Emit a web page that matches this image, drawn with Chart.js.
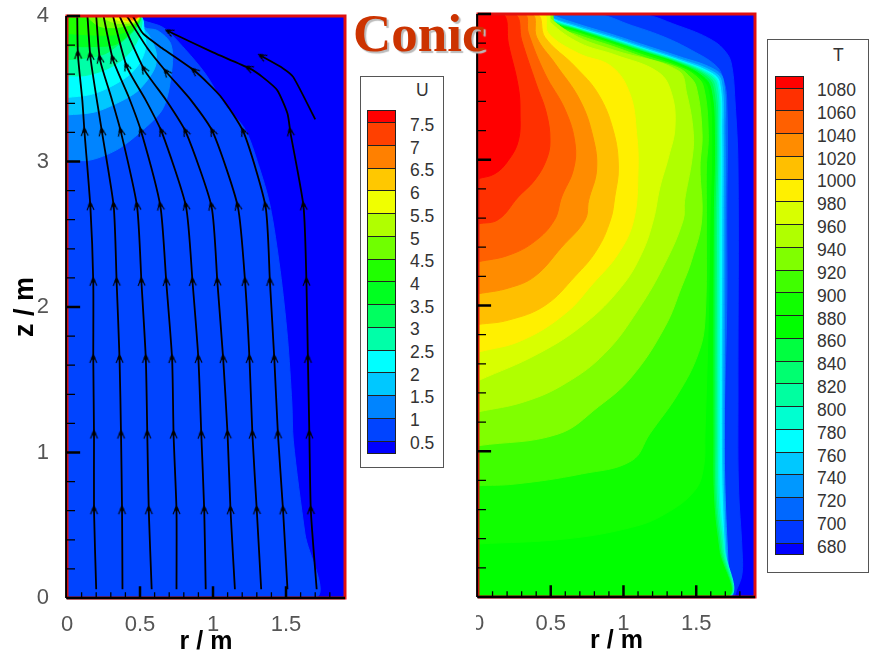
<!DOCTYPE html>
<html>
<head>
<meta charset="utf-8">
<title>Conic</title>
<script src="https://cdn.jsdelivr.net/npm/chart.js@4"></script>
<style>
  html, body { margin: 0; padding: 0; background: #fff; width: 870px; height: 654px; overflow: hidden; }
  canvas { position: absolute; top: 0; }
  #leftPlot { left: 0; }
  #rightPlot { left: 476px; }
  #title {
    position: absolute; left: 353px; top: 3px; z-index: 5;
    font: bold 53px/60px "Liberation Serif", serif; color: #cc3300;
    text-shadow: 2px 2px 1px #bbb;
  }
  .box { position: absolute; background: #fff; border: 1px solid #555; box-sizing: border-box; z-index: 3; }
  .band { position: absolute; box-sizing: border-box; border: 1px solid #222; }
  .lab { position: absolute; font: 17.5px/18px "Liberation Sans", sans-serif; color: #333; }
</style>
</head>
<body>
<canvas id="leftPlot" width="358" height="654"></canvas>
<canvas id="rightPlot" width="290" height="654"></canvas>
<div id="title">Conic</div>
<div id="uBox" class="box" style="left:360px;top:76px;width:84px;height:392px"></div>
<div id="tBox" class="box" style="left:767px;top:39px;width:102px;height:534px"></div>
<script>
/* axis values */
const rTicks = [0, 0.5, 1, 1.5]
const zTicks = [0, 1, 2, 3, 4]
const rMinor = [0.1, 0.2, 0.3, 0.4, 0.6, 0.7, 0.8, 0.9, 1.1, 1.2, 1.3, 1.4, 1.6, 1.7, 1.8]
const zMinor = [0.2, 0.4, 0.6, 0.8, 1.2, 1.4, 1.6, 1.8, 2.2, 2.4, 2.6, 2.8, 3.2, 3.4, 3.6, 3.8]
const rMax = 1.904
const zMax = 4

/* legend U, low to high */
const uLabels = ['0.5', '1', '1.5', '2', '2.5', '3', '3.5', '4', '4.5', '5', '5.5', '6', '6.5', '7', '7.5']
const uColors = ['#0000ff', '#0044ff', '#0084ff', '#00c8ff', '#00ffff', '#00ffa8', '#00ff60', '#00ff20',
                 '#20ff00', '#70ff00', '#b0ff00', '#f0ff00', '#ffc800', '#ff8000', '#ff4000', '#ff0000']

/* legend T, low to high */
const tLabels = ['680', '700', '720', '740', '760', '780', '800', '820', '840', '860', '880', '900', '920', '940',
                 '960', '980', '1000', '1020', '1040', '1060', '1080']
const tColors = ['#0000ff', '#0038ff', '#0068ff', '#0098ff', '#00c8ff', '#00ffff', '#00ffd0', '#00ffa0', '#00ff70',
                 '#00ff40', '#00ff00', '#10ff00', '#40ff00', '#80ff00', '#b0ff00', '#d8ff00', '#fff000', '#ffbf00',
                 '#ff8c00', '#ff6000', '#ff3000', '#ff0000']

/* U contours, [r, z] */
const u05 = [[0,0],[1.70,0],[1.63,0.44],[1.55,1.08],[1.54,1.34],[1.51,1.79],[1.46,2.25],[1.39,2.70],[1.31,2.98],[1.22,3.22],[1.08,3.39],[0.95,3.6],[0.81,3.77],[0.66,3.92],[0.52,3.97],[0.5,4]]
const u10 = [[0,3.01],[0.16,3.01],[0.34,3.08],[0.5,3.2],[0.66,3.37],[0.72,3.65],[0.71,3.81],[0.62,3.9],[0.53,3.92],[0.505,3.97],[0.5,4]]
const u15 = [[0,3.32],[0.19,3.34],[0.36,3.41],[0.49,3.49],[0.60,3.64],[0.61,3.75],[0.56,3.87],[0.52,3.92],[0.5,4]]
const u20 = [[0,3.44],[0.16,3.46],[0.29,3.51],[0.42,3.59],[0.50,3.68],[0.54,3.79],[0.53,3.88],[0.5,4]]
const u25 = [[0,3.59],[0.12,3.59],[0.26,3.63],[0.38,3.70],[0.46,3.79],[0.50,3.88],[0.5,4]]
const u30 = [[0,3.70],[0.12,3.71],[0.26,3.74],[0.36,3.81],[0.44,3.88],[0.49,3.94],[0.5,4]]
const u35 = [[0,3.79],[0.16,3.79],[0.32,3.80],[0.40,3.85],[0.46,3.91],[0.495,3.96],[0.498,4]]
const u40 = [[0,3.88],[0.16,3.87],[0.32,3.87],[0.40,3.89],[0.47,3.93],[0.495,3.97],[0.497,4]]
const u45 = [[0.13,4],[0.22,3.93],[0.32,3.92],[0.40,3.93],[0.47,3.95],[0.49,3.97],[0.495,4]]
const u50 = [[0.22,4],[0.28,3.97],[0.34,3.95],[0.42,3.95],[0.47,3.96],[0.49,3.98],[0.492,4]]
const u55 = [[0.30,4],[0.35,3.97],[0.42,3.96],[0.47,3.965],[0.49,4]]
const u60 = [[0.36,4],[0.40,3.97],[0.46,3.97],[0.485,4]]
const u65 = [[0.40,4],[0.43,3.98],[0.47,3.975],[0.485,4]]
const u70 = [[0.42,4],[0.45,3.985],[0.47,3.985],[0.48,4]]
const u75 = [[0.45,4],[0.46,3.99],[0.475,4]]

/* T contours, [r, z] */
const t680 = [[1.746,0],[1.78,0.055],[1.815,0.16],[1.815,0.315],[1.79,0.775],[1.787,1.42],[1.787,2.95],[1.766,3.41],[1.745,3.64],[1.71,3.73],[1.61,3.82],[1.375,3.92],[1.10,4]]
const t700 = [[1.73,0],[1.72,0.11],[1.69,0.66],[1.69,1.08],[1.71,2.02],[1.71,2.59],[1.71,3.41],[1.68,3.57],[1.63,3.65],[1.47,3.75],[1.285,3.84],[1.06,3.92],[0.80,4]]
const t720 = [[1.725,0],[1.72,0.2],[1.70,0.66],[1.693,1.08],[1.698,2.59],[1.698,3.18],[1.685,3.55],[1.615,3.625],[1.377,3.71],[1.148,3.785],[0.92,3.86],[0.69,3.93],[0.53,3.985],[0.52,4]]
const t740 = [[1.72,0],[1.71,0.2],[1.69,0.66],[1.683,1.08],[1.686,2.59],[1.686,3.18],[1.672,3.54],[1.605,3.61],[1.377,3.695],[1.148,3.77],[0.92,3.845],[0.69,3.915],[0.505,3.975],[0.50,4]]
const t760 = [[1.715,0],[1.70,0.2],[1.68,0.66],[1.673,1.08],[1.675,2.59],[1.675,3.18],[1.66,3.53],[1.595,3.60],[1.377,3.685],[1.148,3.76],[0.92,3.835],[0.69,3.905],[0.505,3.97],[0.495,4]]
const t780 = [[1.712,0],[1.695,0.33],[1.662,0.66],[1.658,1.08],[1.663,2.59],[1.665,3.18],[1.65,3.525],[1.585,3.595],[1.377,3.68],[1.148,3.755],[0.92,3.83],[0.69,3.90],[0.505,3.965],[0.496,4]]
const t800 = [[1.709,0],[1.685,0.33],[1.652,0.66],[1.648,1.08],[1.652,2.59],[1.656,3.18],[1.64,3.52],[1.575,3.59],[1.377,3.675],[1.148,3.75],[0.92,3.825],[0.69,3.897],[0.505,3.96],[0.497,4]]
const t820 = [[1.706,0],[1.675,0.33],[1.64,0.66],[1.637,1.08],[1.64,2.59],[1.648,3.18],[1.627,3.51],[1.565,3.585],[1.377,3.67],[1.148,3.745],[0.92,3.82],[0.69,3.893],[0.505,3.955],[0.498,4]]
const t840 = [[1.703,0],[1.665,0.33],[1.63,0.66],[1.627,1.08],[1.629,2.59],[1.637,3.18],[1.615,3.50],[1.555,3.58],[1.377,3.665],[1.148,3.74],[0.92,3.815],[0.69,3.89],[0.51,3.95],[0.50,4]]
const t860 = [[1.70,0],[1.655,0.33],[1.62,0.66],[1.615,1.08],[1.617,2.59],[1.625,3.18],[1.60,3.49],[1.54,3.575],[1.377,3.66],[1.148,3.735],[0.92,3.81],[0.69,3.885],[0.51,3.945],[0.50,4]]
const t880 = [[0,0.364],[0.598,0.398],[1.056,0.478],[1.285,0.569],[1.49,0.73],[1.55,0.889],[1.56,1.118],[1.583,1.90],[1.595,2.586],[1.606,3.18],[1.583,3.477],[1.526,3.565],[1.377,3.65],[1.148,3.73],[0.92,3.807],[0.69,3.88],[0.51,3.94],[0.50,4]]
const t900 = [[0,0.764],[0.254,0.775],[0.71,0.844],[1.056,0.935],[1.18,1.118],[1.377,1.397],[1.514,1.67],[1.56,1.90],[1.57,2.586],[1.57,2.95],[1.583,3.18],[1.55,3.50],[1.49,3.58],[1.377,3.64],[1.148,3.715],[0.92,3.795],[0.69,3.87],[0.518,3.93],[0.505,4]]
const t920 = [[0,1.038],[0.55,1.118],[0.827,1.305],[1.056,1.51],[1.285,1.854],[1.40,2.13],[1.468,2.31],[1.537,2.586],[1.526,2.95],[1.54,3.18],[1.50,3.50],[1.445,3.58],[1.377,3.63],[1.148,3.70],[0.92,3.78],[0.69,3.855],[0.53,3.92],[0.50,4]]
const t940 = [[0,1.27],[0.32,1.34],[0.60,1.465],[0.87,1.67],[1.10,1.97],[1.285,2.29],[1.41,2.586],[1.42,2.72],[1.47,3.0],[1.48,3.18],[1.434,3.455],[1.377,3.61],[0.94,3.75],[0.69,3.84],[0.495,3.97],[0.49,4]]
const t960 = [[0,1.484],[0.415,1.67],[0.735,1.877],[0.987,2.13],[1.125,2.357],[1.205,2.586],[1.25,2.81],[1.31,3.02],[1.354,3.226],[1.33,3.455],[1.24,3.60],[0.94,3.72],[0.70,3.80],[0.50,3.94],[0.485,4]]
const t980 = [[0,1.68],[0.30,1.76],[0.60,1.945],[0.79,2.15],[0.965,2.357],[1.07,2.586],[1.10,2.93],[1.09,3.18],[1.045,3.45],[0.918,3.64],[0.69,3.73],[0.483,3.87],[0.449,4]]
const t1000 = [[0,1.87],[0.21,1.90],[0.46,2.0],[0.667,2.20],[0.816,2.38],[0.91,2.586],[0.94,2.745],[0.965,2.95],[0.93,3.20],[0.827,3.45],[0.667,3.64],[0.46,3.84],[0.403,4]]
const t1020 = [[0,2.08],[0.21,2.12],[0.39,2.20],[0.575,2.40],[0.735,2.586],[0.76,2.72],[0.815,2.93],[0.79,3.157],[0.70,3.41],[0.53,3.66],[0.403,3.84],[0.369,4]]
const t1040 = [[0,2.30],[0.21,2.345],[0.39,2.44],[0.525,2.586],[0.575,2.745],[0.655,2.93],[0.667,3.11],[0.60,3.34],[0.46,3.59],[0.346,3.87],[0.318,4]]
const t1060 = [[0,2.56],[0.14,2.59],[0.277,2.745],[0.39,2.86],[0.47,3.0],[0.495,3.13],[0.47,3.32],[0.40,3.52],[0.30,3.82],[0.254,4]]
const t1080 = [[0,2.87],[0.117,2.905],[0.208,2.995],[0.277,3.13],[0.289,3.32],[0.277,3.50],[0.208,3.80],[0.174,4]]

/* streamlines, bottom to top */
const stream1 = [[0.20,0.06],[0.185,0.6],[0.185,1.12],[0.18,1.64],[0.18,2.17],[0.16,2.69],[0.12,3.2],[0.105,3.42],[0.075,3.73],[0.07,4]]
const stream2 = [[0.38,0.06],[0.377,0.6],[0.37,1.12],[0.36,1.64],[0.34,2.17],[0.32,2.69],[0.24,3.2],[0.20,3.45],[0.16,3.72],[0.14,4]]
const stream3 = [[0.58,0.06],[0.56,0.6],[0.55,1.12],[0.54,1.64],[0.51,2.17],[0.48,2.69],[0.37,3.2],[0.30,3.45],[0.226,3.70],[0.20,4]]
const stream4 = [[0.75,0.06],[0.75,0.6],[0.73,1.12],[0.72,1.64],[0.68,2.17],[0.64,2.69],[0.51,3.2],[0.42,3.45],[0.315,3.70],[0.25,4]]
const stream5 = [[0.95,0.06],[0.94,0.6],[0.92,1.12],[0.90,1.64],[0.86,2.17],[0.815,2.69],[0.65,3.2],[0.54,3.42],[0.41,3.65],[0.315,4]]
const stream6 = [[1.15,0.06],[1.12,0.6],[1.10,1.12],[1.07,1.64],[1.03,2.17],[0.99,2.69],[0.815,3.2],[0.68,3.42],[0.53,3.63],[0.36,4]]
const stream7 = [[1.33,0.06],[1.30,0.6],[1.27,1.12],[1.25,1.64],[1.22,2.17],[1.17,2.69],[1.0,3.2],[0.85,3.42],[0.685,3.61],[0.55,3.78],[0.41,4]]
const stream8 = [[1.51,0.06],[1.48,0.6],[1.445,1.12],[1.42,1.64],[1.39,2.17],[1.36,2.69],[1.21,3.2],[1.05,3.45],[0.877,3.62],[0.65,3.78],[0.52,3.88],[0.45,4]]
const stream9 = [[1.71,0.06],[1.67,0.6],[1.66,1.12],[1.65,1.64],[1.64,2.17],[1.62,2.69],[1.53,3.2],[1.51,3.33],[1.44,3.49],[1.34,3.58],[1.25,3.64],[1.0,3.75],[0.705,3.89]]
const stream10 = [[1.70,3.29],[1.55,3.58],[1.48,3.64],[1.34,3.72]]
const arrowRows = [1, 2, 3, 4, 5, 6, 8]
const arrows9 = [1, 2, 3, 4, 5, 6, 10, 12]
const arrows10 = [3]

const black = '#000'
const red = '#e01010'

const toXY = pts => pts.map(p => ({x: p[0], y: p[1]}))
const closed = pts => pts[0][1] === 0 ? [[0, 0], ...pts, [0, zMax]] : [...pts, [0, zMax]]

const polygon = (pts, color, tension) => ({
    data: toXY(pts), showLine: true, fill: 'shape', backgroundColor: color, borderColor: color,
    borderWidth: 1, pointRadius: 0, tension: tension
})
const lineSet = (pts, color, width) => ({
    data: toXY(pts), showLine: true, fill: false, borderColor: color, borderWidth: width,
    pointRadius: 0, tension: 0, clip: false
})

/* small barbed head used for the streamline arrows */
const headImg = document.createElement('canvas')
headImg.width = 11
headImg.height = 11
const hc = headImg.getContext('2d')
hc.strokeStyle = black
hc.lineWidth = 1.1
hc.beginPath()
hc.moveTo(2, 9); hc.lineTo(5.5, 1); hc.lineTo(9, 9)
hc.stroke()
hc.fillStyle = black
hc.beginPath()
hc.arc(5.5, 4, 2, 0, 7)
hc.fill()

const streamSet = pts => ({
    data: toXY(pts), showLine: true, fill: false, borderColor: black, borderWidth: 1.8,
    pointRadius: 0, tension: 0.2
})
const arrowSet = (pts, idx) => ({
    data: idx.map(i => {
        const a = pts[Math.max(i - 1, 0)], b = pts[Math.min(i + 1, pts.length - 1)]
        return {x: pts[i][0], y: pts[i][1], rot: Math.atan2(b[0] - a[0], b[1] - a[1]) * 180 / Math.PI}
    }),
    showLine: false, pointStyle: headImg, pointRadius: 5, pointRotation: c => c.raw ? c.raw.rot : 0
})

/* frame and inward ticks built from the tick arrays */
const tickPts = (rs, zs, rLen, zLen) => {
    const out = []
    rs.forEach(r => out.push([r, 0], [r, zLen], [NaN, NaN]))
    zs.forEach(z => out.push([0, z], [rLen, z], [NaN, NaN]))
    return out
}
const frameSets = () => [
    lineSet([[0, 0], [rMax, 0], [rMax, zMax], [0, zMax], [0, 0]], red, 3),
    lineSet([[-0.006, 0], [-0.006, zMax]], black, 2),
    lineSet([[-0.006, 0], [rMax, 0]], black, 2.5),
    lineSet(tickPts(rTicks.slice(1), zTicks.slice(1), 0.09, 0.08), black, 2.5),
    lineSet(tickPts(rMinor, zMinor, 0.055, 0.04), black, 1.3)
]

const baseOptions = (showY, pad) => ({
    responsive: false,
    animation: false,
    layout: {padding: pad},
    plugins: {legend: {display: false}, tooltip: {enabled: false}},
    scales: {
        x: {
            type: 'linear', min: 0, max: rMax,
            grid: {display: false}, border: {display: false},
            afterBuildTicks: s => { s.ticks = rTicks.map(v => ({value: v})) },
            afterFit: s => { s.paddingLeft = 0; s.paddingRight = 0; s.height = 56 },
            ticks: {
                autoSkip: false, maxRotation: 0, padding: 6, color: '#555',
                font: {family: 'Liberation Sans', size: 22},
                callback: v => String(v)
            },
            title: {
                display: true, text: 'r / m', color: black, padding: {top: 0, bottom: -3},
                font: {family: 'Liberation Sans', size: 25, weight: 'bold'}
            }
        },
        y: {
            type: 'linear', min: 0, max: zMax, display: showY,
            grid: {display: false}, border: {display: false},
            afterBuildTicks: s => { s.ticks = zTicks.map(v => ({value: v})) },
            afterFit: s => { s.width = showY ? 67 : 0; s.paddingTop = 0; s.paddingBottom = 0 },
            ticks: {
                padding: 10, color: '#555',
                font: {family: 'Liberation Sans', size: 22},
                callback: v => String(v)
            },
            title: {
                display: showY, text: 'z / m', color: black, padding: {top: 9, bottom: 0},
                font: {family: 'Liberation Sans', size: 27, weight: 'bold'}
            }
        }
    }
})

// Velocity chart
const uContours = [u05, u10, u15, u20, u25, u30, u35, u40, u45, u50, u55, u60, u65, u70, u75]
const streams = [stream1, stream2, stream3, stream4, stream5, stream6, stream7, stream8, stream9, stream10]
const streamArrows = [arrowRows, arrowRows, arrowRows, arrowRows, arrowRows, arrowRows, arrowRows, arrowRows, arrows9, arrows10]
const uSets = [
    polygon([[0, 0], [rMax, 0], [rMax, zMax], [0, zMax]], uColors[0], 0),
    ...uContours.map((c, i) => polygon(closed(c), uColors[i + 1], 0.3)),
    ...streams.map(streamSet),
    ...streams.map((s, i) => arrowSet(s, streamArrows[i])),
    ...frameSets()
]
new Chart(document.getElementById('leftPlot'), {
    type: 'scatter',
    data: {datasets: uSets.reverse()},
    options: baseOptions(true, {left: 0, right: 13, top: 16, bottom: 0})
})

// Temperature chart
const tContours = [t680, t700, t720, t740, t760, t780, t800, t820, t840, t860, t880, t900, t920, t940, t960, t980, t1000, t1020, t1040, t1060, t1080]
const tSets = [
    polygon([[0, 0], [rMax, 0], [rMax, zMax], [0, zMax]], tColors[0], 0),
    ...tContours.map((c, i) => polygon(closed(c), tColors[i + 1], 0.4)),
    ...frameSets()
]
new Chart(document.getElementById('rightPlot'), {
    type: 'scatter',
    data: {datasets: tSets.reverse()},
    options: baseOptions(false, {left: 2, right: 11, top: 14, bottom: 1})
})

/* colour bars */
const addLegend = (box, name, nameX, nameY, labels, colors, barX, barTop, first, step, labelX, labelTop, labelStep) => {
    const host = document.getElementById(box), b = host.getBoundingClientRect()
    const add = (cls, css, text) => {
        const d = document.createElement('div')
        d.className = cls
        Object.assign(d.style, css)
        if(text) d.textContent = text
        host.appendChild(d)
    }
    add('lab', {left: (nameX - b.left - 1) + 'px', top: (nameY - b.top - 10) + 'px'}, name)
    const n = colors.length
    colors.slice().reverse().forEach((c, i) => {
        const top = i === 0 ? barTop : barTop + first + (i - 1) * step
        const h = (i === 0 || i === n - 1) ? first : step
        add('band', {left: (barX - b.left - 1) + 'px', top: (top - b.top - 1) + 'px', width: '29px', height: (h + 1) + 'px', background: c})
    })
    labels.slice().reverse().forEach((l, i) => {
        add('lab', {left: (labelX - b.left - 1) + 'px', top: (labelTop + i * labelStep - b.top - 10) + 'px'}, l)
    })
}
addLegend('uBox', 'U', 416, 90, uLabels, uColors, 367, 110, 12, 22.75, 410, 125, 22.7)
addLegend('tBox', 'T', 833, 55, tLabels, tColors, 775, 76, 11.5, 22.75, 817, 90, 22.85)
</script>
</body>
</html>
